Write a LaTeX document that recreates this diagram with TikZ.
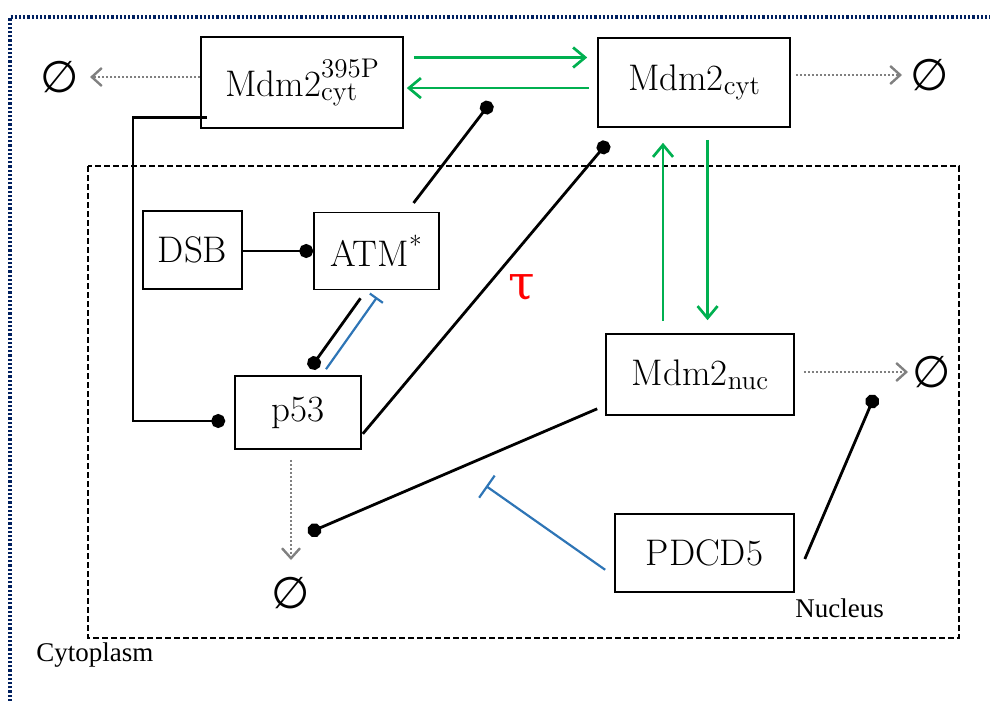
\documentclass[tikz,border=0pt]{standalone}
\usepackage{fontspec}
\usetikzlibrary{arrows.meta,calc}
\newfontfamily\timesf{Liberation Serif}
\newfontfamily\symf{DejaVu Sans}
\newfontfamily\greekf{DejaVu Serif}
\definecolor{kgreen}{HTML}{00B050}
\definecolor{kblue}{HTML}{2E75B6}
\definecolor{knavy}{HTML}{002060}
\definecolor{kgray}{HTML}{808080}
\newcommand{\scr}[1]{{\fontsize{13.5pt}{14pt}\selectfont #1}}
\begin{document}
\begin{tikzpicture}[x=0.5pt,y=-0.5pt,
  box/.style={draw=black, line width=0.8pt, inner sep=0pt, font=\fontsize{18.5pt}{22pt}\selectfont},
  nul/.style={inner sep=0pt, font=\symf\fontsize{22pt}{26pt}\selectfont},
  degr/.style={draw=kgray, line width=1.2pt, dash pattern=on 1pt off 1pt, -{Straight Barb[length=5pt,width=9pt]}},
  trans/.style={draw=kgreen, line width=1.35pt, -{Straight Barb[length=6pt,width=10pt]}},
  act/.style={draw=black, line width=1.4pt, -{Circle[length=7pt]}},
  blk/.style={draw=kblue, line width=1.1pt, -{Bar[width=8pt]}},
  lab/.style={anchor=base west, inner sep=0pt, font=\timesf\fontsize{13.5pt}{15pt}\selectfont}
]
\useasboundingbox (0,0) rectangle (990,701);
% compartments
\draw[knavy, line width=1.6pt, dash pattern=on 1.1pt off 1pt] (10,701) -- (10,17) -- (990,17);
\draw[black, line width=0.9pt, dash pattern=on 3pt off 1.5pt] (88,166) rectangle (959,638);
% boxes
\node[box, minimum width=101pt, minimum height=45.5pt] (m395) at (302,82.5) {Mdm2\rlap{\raisebox{-2.2pt}{\scr{cyt}}}\raisebox{9.5pt}{\scr{395P}}};
\node[box, minimum width=96pt, minimum height=44.5pt] (mcyt) at (694,82.5) {Mdm2\raisebox{-2.2pt}{\scr{cyt}}};
\node[box, minimum width=49.5pt, minimum height=39pt] (dsb) at (192.5,250) {DSB};
\node[box, minimum width=62.5pt, minimum height=38.5pt] (atm) at (376.5,251) {ATM\textsuperscript{*}};
\node[box, minimum width=63pt, minimum height=36.5pt] (p53) at (298,412.5) {p53};
\node[box, minimum width=94pt, minimum height=40.5pt] (mnuc) at (700,374.5) {Mdm2\raisebox{-2.2pt}{\scr{nuc}}};
\node[box, minimum width=89.5pt, minimum height=39pt] (pdcd) at (704.5,553) {PDCD5};
% sinks
\node[nul] (n1) at (60,77) {∅};
\node[nul] (n2) at (930,75) {∅};
\node[nul] (n3) at (932,372) {∅};
\node[nul] (n4) at (291,593) {∅};
% labels
\node[text=red, font=\greekf\fontsize{24pt}{26pt}\selectfont] (tau) at (522,288) {τ};
\node[lab] (nuclab) at (795,617) {Nucleus};
\node[lab] (cytlab) at (36,661) {Cytoplasm};
% degradation
\draw[degr, shorten >=15pt] (n1 -| m395.west) -- (n1.center);
\draw[degr, shorten <=2.5pt, shorten >=14pt] (n2 -| mcyt.east) -- (n2.center);
\draw[degr, shorten <=4.5pt, shorten >=12pt] (n3 -| mnuc.east) -- (n3.center);
\draw[degr, shorten <=5pt, shorten >=16.5pt] (p53.south -| n4) -- (n4.center);
% transport
\coordinate (g1) at ($(m395.north east)!0.23!(m395.south east)$);
\coordinate (g2) at ($(m395.north east)!0.56!(m395.south east)$);
\coordinate (g3) at ($(mcyt.south west)!0.34!(mcyt.south east)$);
\coordinate (g4) at ($(mcyt.south west)!0.57!(mcyt.south east)$);
\draw[trans, shorten <=5pt, shorten >=5pt] (g1) -- (g1 -| mcyt.west);
\draw[trans, shorten <=4pt, shorten >=1.5pt] (g2 -| mcyt.west) -- (g2);
\draw[trans, shorten <=6pt, shorten >=7.5pt] (g3 |- mnuc.north) -- (g3);
\draw[trans, shorten <=6pt, shorten >=6.5pt] (g4) -- (g4 |- mnuc.north);
% activations
\coordinate (k1) at ($(m395.south west)+(7,-11)$);
\coordinate (k2) at ($(p53.west)+(0,8.5)$);
\coordinate (k3) at (133,0);
\draw[act, shorten >=4.5pt] (k1) -- (k1 -| k3) |- (k2);
\draw[act] (atm.west -| dsb.east) -- (atm.west);
\coordinate (b1) at (491,102);
\draw[act, shorten <=5.5pt] ($(atm.north west)!0.74!(atm.north east)$) -- (b1);
\coordinate (b2) at (608,142);
\draw[act] ($(p53.south east)+(1,-16)$) -- (b2);
\draw[act] ($(atm.south)+(-16,8)$) -- ($(p53.north)+(12,-6.5)$);
\draw[blk] ($(p53.north)+(28,-6)$) -- ($(atm.south)+(0.5,7)$);
\coordinate (b3) at (308,533);
\draw[act] ($(mnuc.south west)+(-8,-7)$) -- (b3);
\coordinate (t1) at (486,486);
\draw[blk, -{Bar[width=13.5pt]}] ($(pdcd.south west)+(-9,-23)$) -- (t1);
\coordinate (b4) at (875,395);
\draw[act] ($(pdcd.east)+(10,6)$) -- (b4);
\end{tikzpicture}
\end{document}
